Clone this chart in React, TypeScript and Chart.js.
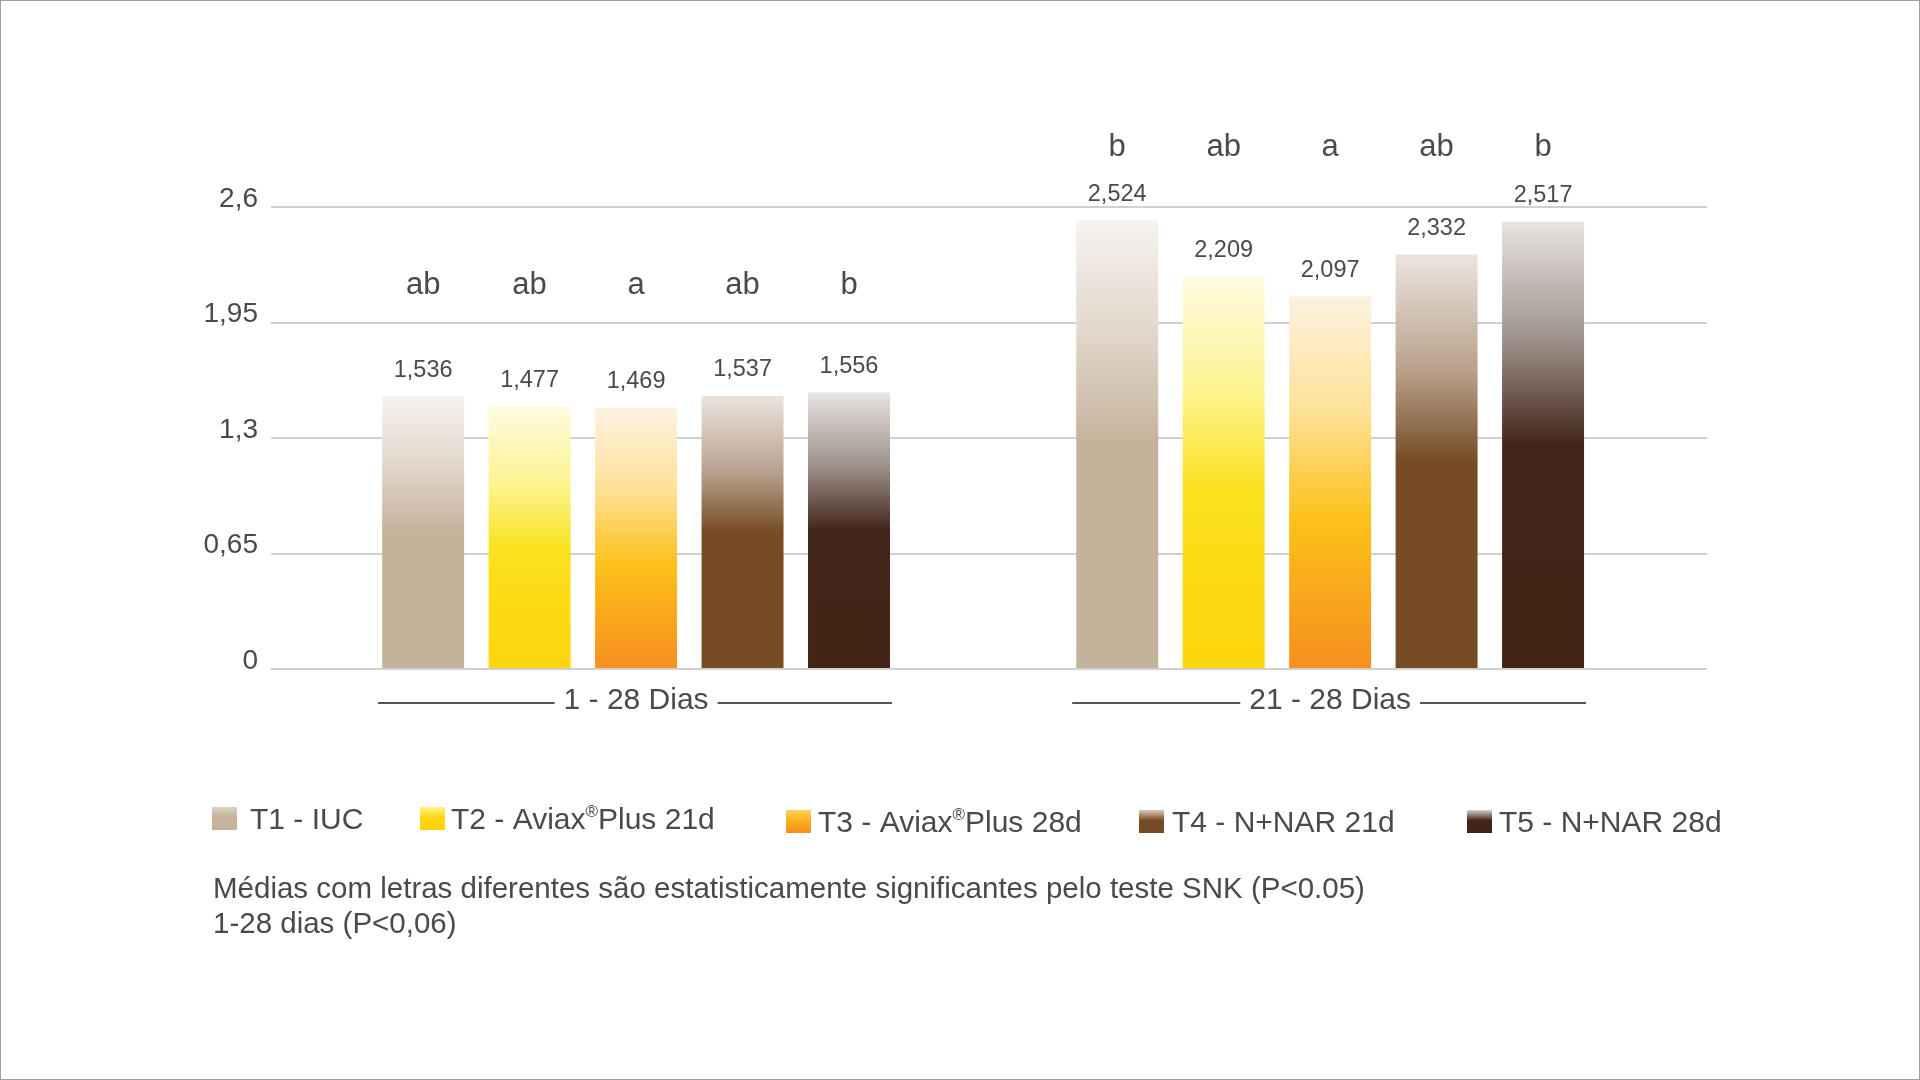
import { useEffect, useRef } from "react"
import { Chart, registerables } from "chart.js"

Chart.register(...registerables)

// Periods (x categories) and the five treatments
const periods = ["1 - 28 Dias", "21 - 28 Dias"]
const treatments = ["T1 - IUC", "T2 - Aviax®Plus 21d", "T3 - Aviax®Plus 28d", "T4 - N+NAR 21d", "T5 - N+NAR 28d"]

// Mean values per treatment, one per period
const t1Values = [1.536, 2.524]
const t2Values = [1.477, 2.209]
const t3Values = [1.469, 2.097]
const t4Values = [1.537, 2.332]
const t5Values = [1.556, 2.517]

// SNK letters per treatment, one per period
const t1Letters = ["ab", "b"]
const t2Letters = ["ab", "ab"]
const t3Letters = ["a", "a"]
const t4Letters = ["ab", "ab"]
const t5Letters = ["b", "b"]

const yTicks = [0, 0.65, 1.3, 1.95, 2.6]

const footnote = [
  "Médias com letras diferentes são estatisticamente significantes pelo teste SNK (P<0.05)",
  "1-28 dias (P<0,06)",
]

const FONT = "'Liberation Sans', Arial, Helvetica, sans-serif"
const TEXT = "#4a4a4a"

// gradient stops, top of bar -> bottom of bar
const barStops: [number, string][][] = [
  [[0, "#f6f3f0"], [0.25, "#e2d7cb"], [0.5, "#c5b29b"], [1, "#c5b29b"]],
  [[0, "#fffbe2"], [0.3, "#fcf38e"], [0.55, "#fbe11c"], [1, "#fcd40c"]],
  [[0, "#fdf2e1"], [0.3, "#fee29a"], [0.6, "#fcc11a"], [1, "#f68f1f"]],
  [[0, "#ebe4de"], [0.28, "#b8a18c"], [0.5, "#774c25"], [1, "#774c25"]],
  [[0, "#e8e4e2"], [0.27, "#9c8f88"], [0.5, "#42251a"], [1, "#412414"]],
]
const swatchStops: [number, string][][] = [
  [[0, "#ddd2c5"], [0.4, "#c6b39b"], [1, "#c6b39b"]],
  [[0, "#fff38a"], [0.5, "#fdd70c"], [1, "#fdd20c"]],
  [[0, "#fdd35a"], [0.5, "#fbae1a"], [1, "#f68f1f"]],
  [[0, "#d9cbbd"], [0.45, "#774c25"], [1, "#774c25"]],
  [[0, "#d8d0cb"], [0.45, "#42251a"], [1, "#412414"]],
]

const allValues = [t1Values, t2Values, t3Values, t4Values, t5Values]
const allLetters = [t1Letters, t2Letters, t3Letters, t4Letters, t5Letters]

// legend layout
const swatchX = [212, 420, 786, 1139, 1467]
const legendTextX = [250, 451, 818, 1172, 1499]
const legendBase = [829, 829, 832, 832, 832]
const letterLevel = [2.16, 2.937]

function gradient(ctx: CanvasRenderingContext2D, top: number, bottom: number, stops: [number, string][]) {
  const g = ctx.createLinearGradient(0, top, 0, bottom)
  stops.forEach(([o, c]) => g.addColorStop(o, c))
  return g
}

function drawReg(ctx: CanvasRenderingContext2D, label: string, x: number, y: number) {
  const parts = label.split("®")
  ctx.font = `30px ${FONT}`
  ctx.fillText(parts[0], x, y)
  if (parts.length < 2) return
  let cx = x + ctx.measureText(parts[0]).width
  ctx.font = `17px ${FONT}`
  ctx.fillText("®", cx, y - 12)
  cx += ctx.measureText("®").width
  ctx.font = `30px ${FONT}`
  ctx.fillText(parts[1], cx, y)
}

const annotations = {
  id: "annotations",
  afterDatasetsDraw(chart: Chart) {
    const { ctx } = chart
    const y = chart.scales.y
    ctx.save()
    ctx.fillStyle = TEXT
    ctx.textAlign = "center"
    ctx.textBaseline = "middle"
    chart.data.datasets.forEach((_, di) => {
      const meta = chart.getDatasetMeta(di)
      meta.data.forEach((bar: any, i: number) => {
        ctx.font = `23.5px ${FONT}`
        ctx.fillText(allValues[di][i].toFixed(3).replace(".", ","), bar.x, bar.y - 26)
        ctx.font = `31px ${FONT}`
        ctx.fillText(allLetters[di][i], bar.x, y.getPixelForValue(letterLevel[i]))
      })
    })

    // period labels with rules on each side
    const first = chart.getDatasetMeta(0)
    const last = chart.getDatasetMeta(chart.data.datasets.length - 1)
    ctx.font = `30px ${FONT}`
    ctx.strokeStyle = "#555"
    ctx.lineWidth = 2
    periods.forEach((p, i) => {
      const b0: any = first.data[i]
      const b1: any = last.data[i]
      const left = b0.x - b0.width / 2 - 4
      const right = b1.x + b1.width / 2 + 2
      const cx = (b0.x + b1.x) / 2
      const w = ctx.measureText(p).width
      const ty = 701
      ctx.fillText(p, cx, ty)
      ctx.beginPath()
      ctx.moveTo(left, ty + 2)
      ctx.lineTo(cx - w / 2 - 9, ty + 2)
      ctx.moveTo(cx + w / 2 + 9, ty + 2)
      ctx.lineTo(right, ty + 2)
      ctx.stroke()
    })

    // legend
    ctx.textAlign = "left"
    ctx.textBaseline = "alphabetic"
    treatments.forEach((t, i) => {
      const top = legendBase[i] - 22
      ctx.fillStyle = gradient(ctx, top, top + 23, swatchStops[i])
      ctx.fillRect(swatchX[i], top, 25, 23)
      ctx.fillStyle = TEXT
      drawReg(ctx, t, legendTextX[i], legendBase[i])
    })

    // footnote
    ctx.font = `29.5px ${FONT}`
    footnote.forEach((line, i) => ctx.fillText(line, 213, 898 + i * 35))
    ctx.restore()
  },
}

export default function App() {
  const chartRef = useRef<HTMLCanvasElement>(null)
  const chartInstance = useRef<Chart | null>(null)

  useEffect(() => {
    document.body.style.margin = "0"
    if (!chartRef.current) return
    if (chartInstance.current) chartInstance.current.destroy()
    const ctx = chartRef.current.getContext("2d")
    if (!ctx) return

    chartInstance.current = new Chart(ctx, {
      type: "bar",
      data: {
        datasets: treatments.map((t, di) => ({
          label: t,
          data: allValues[di].map((v, i) => ({ x: i, y: v })),
          backgroundColor: (c: any) => {
            const chart = c.chart
            if (!chart.chartArea || c.type !== "data") return barStops[di][2][1]
            const ys = chart.scales.y
            const top = ys.getPixelForValue(c.parsed.y)
            const bottom = ys.getPixelForValue(0)
            return gradient(chart.ctx, top, bottom, barStops[di])
          },
          borderWidth: 0,
          categoryPercentage: 0.767,
          barPercentage: 0.77,
        })),
      },
      options: {
        animation: false,
        responsive: true,
        maintainAspectRatio: false,
        layout: { padding: { top: 207, right: 213, bottom: 411, left: 0 } },
        scales: {
          x: {
            type: "linear",
            display: false,
            offset: false,
            min: -0.526,
            max: 1.543,
            afterBuildTicks: (scale: any) => {
              scale.ticks = periods.map((_, i) => ({ value: i }))
            },
          },
          y: {
            min: 0,
            max: 2.6,
            z: 1,
            afterFit: (scale: any) => {
              scale.width = 271
            },
            afterBuildTicks: (scale: any) => {
              scale.ticks = yTicks.map((v) => ({ value: v }))
            },
            border: { display: false },
            grid: { color: "rgba(120,120,120,0.35)", lineWidth: 2, drawTicks: false },
            ticks: {
              color: TEXT,
              font: { family: FONT, size: 28 },
              padding: 13,
              labelOffset: -8,
              callback: (v: any) => String(Number(Number(v).toFixed(2))).replace(".", ","),
            },
          },
        },
        plugins: {
          legend: { display: false },
          tooltip: { enabled: false },
        },
      },
      plugins: [annotations],
    })

    return () => {
      if (chartInstance.current) {
        chartInstance.current.destroy()
        chartInstance.current = null
      }
    }
  }, [])

  return (
    <div
      style={{
        position: "relative",
        width: 1920,
        height: 1080,
        background: "#fff",
        boxShadow: "inset 0 0 0 1px #a0a0a0",
      }}
    >
      <div style={{ position: "absolute", inset: 0 }}>
        <canvas ref={chartRef} />
      </div>
    </div>
  )
}
